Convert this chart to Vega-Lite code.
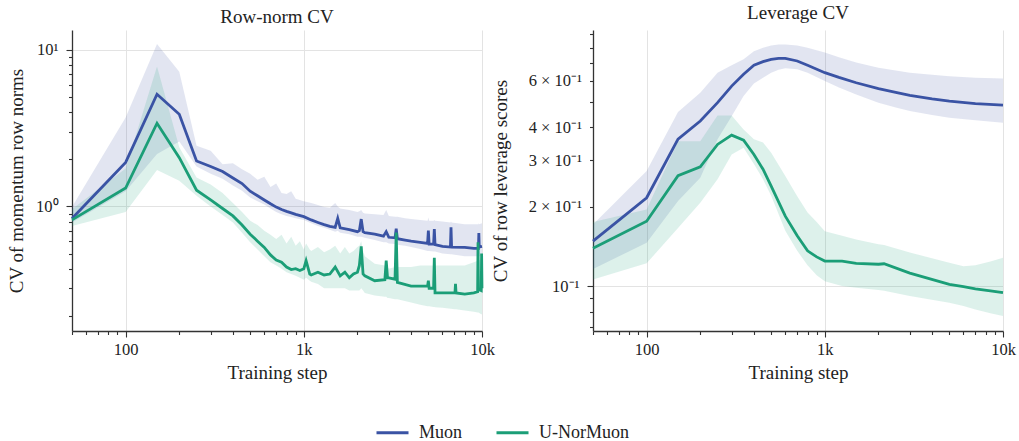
{
  "$schema": "https://vega.github.io/schema/vega-lite/v6.json",
  "background": "white",
  "padding": {"left": 7, "top": 4, "right": 5, "bottom": 5},
  "datasets": {
    "rownorm": [
      {"step": 50, "method": "Muon", "mean": 0.838, "lo": 0.79, "hi": 0.99},
      {"step": 100, "method": "Muon", "mean": 1.91, "lo": 1.25, "hi": 3.7},
      {"step": 150, "method": "Muon", "mean": 5.21, "lo": 2.16, "hi": 10.9},
      {"step": 200, "method": "Muon", "mean": 3.88, "lo": 2.6, "hi": 7.24},
      {"step": 250, "method": "Muon", "mean": 1.95, "lo": 1.8, "hi": 2.44},
      {"step": 300, "method": "Muon", "mean": 1.80, "lo": 1.62, "hi": 2.27},
      {"step": 350, "method": "Muon", "mean": 1.67, "lo": 1.50, "hi": 1.86},
      {"step": 400, "method": "Muon", "mean": 1.52, "lo": 1.36, "hi": 1.89},
      {"step": 450, "method": "Muon", "mean": 1.40, "lo": 1.26, "hi": 1.73},
      {"step": 500, "method": "Muon", "mean": 1.25, "lo": 1.14, "hi": 1.62},
      {"step": 550, "method": "Muon", "mean": 1.17, "lo": 1.08, "hi": 1.48},
      {"step": 600, "method": "Muon", "mean": 1.10, "lo": 1.03, "hi": 1.55},
      {"step": 650, "method": "Muon", "mean": 1.04, "lo": 0.97, "hi": 1.33},
      {"step": 700, "method": "Muon", "mean": 0.99, "lo": 0.92, "hi": 1.40},
      {"step": 750, "method": "Muon", "mean": 0.955, "lo": 0.89, "hi": 1.22},
      {"step": 800, "method": "Muon", "mean": 0.93, "lo": 0.87, "hi": 1.20},
      {"step": 850, "method": "Muon", "mean": 0.91, "lo": 0.855, "hi": 1.25},
      {"step": 900, "method": "Muon", "mean": 0.89, "lo": 0.84, "hi": 1.12},
      {"step": 1000, "method": "Muon", "mean": 0.86, "lo": 0.82, "hi": 1.08},
      {"step": 1100, "method": "Muon", "mean": 0.82, "lo": 0.78, "hi": 1.05},
      {"step": 1200, "method": "Muon", "mean": 0.79, "lo": 0.75, "hi": 1.02},
      {"step": 1300, "method": "Muon", "mean": 0.765, "lo": 0.73, "hi": 0.99},
      {"step": 1400, "method": "Muon", "mean": 0.745, "lo": 0.71, "hi": 0.98},
      {"step": 1500, "method": "Muon", "mean": 0.735, "lo": 0.69, "hi": 1.05},
      {"step": 1550, "method": "Muon", "mean": 0.84, "lo": 0.70, "hi": 1.0},
      {"step": 1600, "method": "Muon", "mean": 0.73, "lo": 0.68, "hi": 0.97},
      {"step": 1800, "method": "Muon", "mean": 0.71, "lo": 0.665, "hi": 0.95},
      {"step": 2000, "method": "Muon", "mean": 0.69, "lo": 0.64, "hi": 0.92},
      {"step": 2050, "method": "Muon", "mean": 0.70, "lo": 0.64, "hi": 0.93},
      {"step": 2100, "method": "Muon", "mean": 0.83, "lo": 0.64, "hi": 0.95},
      {"step": 2150, "method": "Muon", "mean": 0.69, "lo": 0.635, "hi": 0.91},
      {"step": 2200, "method": "Muon", "mean": 0.68, "lo": 0.63, "hi": 0.90},
      {"step": 2500, "method": "Muon", "mean": 0.665, "lo": 0.61, "hi": 0.89},
      {"step": 2800, "method": "Muon", "mean": 0.645, "lo": 0.59, "hi": 0.88},
      {"step": 2900, "method": "Muon", "mean": 0.69, "lo": 0.59, "hi": 0.95},
      {"step": 3000, "method": "Muon", "mean": 0.635, "lo": 0.58, "hi": 0.87},
      {"step": 3250, "method": "Muon", "mean": 0.63, "lo": 0.575, "hi": 0.86},
      {"step": 3300, "method": "Muon", "mean": 0.72, "lo": 0.575, "hi": 0.86},
      {"step": 3350, "method": "Muon", "mean": 0.622, "lo": 0.57, "hi": 0.86},
      {"step": 3700, "method": "Muon", "mean": 0.61, "lo": 0.56, "hi": 0.84},
      {"step": 4000, "method": "Muon", "mean": 0.60, "lo": 0.55, "hi": 0.83},
      {"step": 4500, "method": "Muon", "mean": 0.59, "lo": 0.535, "hi": 0.82},
      {"step": 4950, "method": "Muon", "mean": 0.58, "lo": 0.52, "hi": 0.81},
      {"step": 5000, "method": "Muon", "mean": 0.70, "lo": 0.52, "hi": 0.85},
      {"step": 5050, "method": "Muon", "mean": 0.575, "lo": 0.52, "hi": 0.81},
      {"step": 5350, "method": "Muon", "mean": 0.575, "lo": 0.515, "hi": 0.81},
      {"step": 5400, "method": "Muon", "mean": 0.716, "lo": 0.515, "hi": 0.82},
      {"step": 5450, "method": "Muon", "mean": 0.57, "lo": 0.515, "hi": 0.81},
      {"step": 6000, "method": "Muon", "mean": 0.555, "lo": 0.50, "hi": 0.80},
      {"step": 6650, "method": "Muon", "mean": 0.55, "lo": 0.495, "hi": 0.79},
      {"step": 6700, "method": "Muon", "mean": 0.735, "lo": 0.495, "hi": 0.80},
      {"step": 6750, "method": "Muon", "mean": 0.55, "lo": 0.495, "hi": 0.79},
      {"step": 8000, "method": "Muon", "mean": 0.547, "lo": 0.48, "hi": 0.77},
      {"step": 9000, "method": "Muon", "mean": 0.54, "lo": 0.48, "hi": 0.77},
      {"step": 9550, "method": "Muon", "mean": 0.54, "lo": 0.48, "hi": 0.77},
      {"step": 9600, "method": "Muon", "mean": 0.675, "lo": 0.48, "hi": 0.78},
      {"step": 9650, "method": "Muon", "mean": 0.55, "lo": 0.48, "hi": 0.77},
      {"step": 10000, "method": "Muon", "mean": 0.555, "lo": 0.48, "hi": 0.78},
      {"step": 50, "method": "U-NorMuon", "mean": 0.82, "lo": 0.75, "hi": 0.96},
      {"step": 100, "method": "U-NorMuon", "mean": 1.31, "lo": 0.92, "hi": 1.75},
      {"step": 150, "method": "U-NorMuon", "mean": 3.40, "lo": 1.71, "hi": 7.83},
      {"step": 200, "method": "U-NorMuon", "mean": 2.05, "lo": 1.46, "hi": 2.39},
      {"step": 250, "method": "U-NorMuon", "mean": 1.27, "lo": 1.17, "hi": 1.53},
      {"step": 300, "method": "U-NorMuon", "mean": 1.10, "lo": 1.00, "hi": 1.38},
      {"step": 350, "method": "U-NorMuon", "mean": 0.97, "lo": 0.88, "hi": 1.22},
      {"step": 400, "method": "U-NorMuon", "mean": 0.87, "lo": 0.79, "hi": 1.05},
      {"step": 450, "method": "U-NorMuon", "mean": 0.76, "lo": 0.68, "hi": 0.92},
      {"step": 500, "method": "U-NorMuon", "mean": 0.665, "lo": 0.59, "hi": 0.81},
      {"step": 550, "method": "U-NorMuon", "mean": 0.60, "lo": 0.53, "hi": 0.76},
      {"step": 600, "method": "U-NorMuon", "mean": 0.547, "lo": 0.48, "hi": 0.70},
      {"step": 650, "method": "U-NorMuon", "mean": 0.49, "lo": 0.44, "hi": 0.66},
      {"step": 700, "method": "U-NorMuon", "mean": 0.455, "lo": 0.42, "hi": 0.62},
      {"step": 750, "method": "U-NorMuon", "mean": 0.44, "lo": 0.40, "hi": 0.66},
      {"step": 800, "method": "U-NorMuon", "mean": 0.41, "lo": 0.38, "hi": 0.58},
      {"step": 850, "method": "U-NorMuon", "mean": 0.395, "lo": 0.37, "hi": 0.64},
      {"step": 900, "method": "U-NorMuon", "mean": 0.40, "lo": 0.36, "hi": 0.56},
      {"step": 950, "method": "U-NorMuon", "mean": 0.39, "lo": 0.35, "hi": 0.60},
      {"step": 1000, "method": "U-NorMuon", "mean": 0.40, "lo": 0.34, "hi": 0.53},
      {"step": 1030, "method": "U-NorMuon", "mean": 0.45, "lo": 0.35, "hi": 0.58},
      {"step": 1080, "method": "U-NorMuon", "mean": 0.37, "lo": 0.335, "hi": 0.53},
      {"step": 1100, "method": "U-NorMuon", "mean": 0.365, "lo": 0.33, "hi": 0.52},
      {"step": 1200, "method": "U-NorMuon", "mean": 0.38, "lo": 0.32, "hi": 0.55},
      {"step": 1300, "method": "U-NorMuon", "mean": 0.365, "lo": 0.30, "hi": 0.51},
      {"step": 1400, "method": "U-NorMuon", "mean": 0.37, "lo": 0.30, "hi": 0.53},
      {"step": 1500, "method": "U-NorMuon", "mean": 0.41, "lo": 0.30, "hi": 0.56},
      {"step": 1600, "method": "U-NorMuon", "mean": 0.36, "lo": 0.30, "hi": 0.50},
      {"step": 1700, "method": "U-NorMuon", "mean": 0.38, "lo": 0.30, "hi": 0.55},
      {"step": 1800, "method": "U-NorMuon", "mean": 0.35, "lo": 0.29, "hi": 0.50},
      {"step": 1900, "method": "U-NorMuon", "mean": 0.37, "lo": 0.29, "hi": 0.52},
      {"step": 2000, "method": "U-NorMuon", "mean": 0.38, "lo": 0.29, "hi": 0.55},
      {"step": 2050, "method": "U-NorMuon", "mean": 0.42, "lo": 0.29, "hi": 0.56},
      {"step": 2100, "method": "U-NorMuon", "mean": 0.555, "lo": 0.30, "hi": 0.60},
      {"step": 2150, "method": "U-NorMuon", "mean": 0.37, "lo": 0.29, "hi": 0.52},
      {"step": 2200, "method": "U-NorMuon", "mean": 0.36, "lo": 0.28, "hi": 0.48},
      {"step": 2500, "method": "U-NorMuon", "mean": 0.335, "lo": 0.27, "hi": 0.43},
      {"step": 2850, "method": "U-NorMuon", "mean": 0.34, "lo": 0.265, "hi": 0.42},
      {"step": 2900, "method": "U-NorMuon", "mean": 0.45, "lo": 0.265, "hi": 0.44},
      {"step": 2950, "method": "U-NorMuon", "mean": 0.35, "lo": 0.26, "hi": 0.41},
      {"step": 3000, "method": "U-NorMuon", "mean": 0.35, "lo": 0.26, "hi": 0.40},
      {"step": 3250, "method": "U-NorMuon", "mean": 0.343, "lo": 0.255, "hi": 0.41},
      {"step": 3300, "method": "U-NorMuon", "mean": 0.68, "lo": 0.255, "hi": 0.42},
      {"step": 3350, "method": "U-NorMuon", "mean": 0.327, "lo": 0.255, "hi": 0.41},
      {"step": 4000, "method": "U-NorMuon", "mean": 0.31, "lo": 0.243, "hi": 0.41},
      {"step": 4500, "method": "U-NorMuon", "mean": 0.31, "lo": 0.235, "hi": 0.42},
      {"step": 4950, "method": "U-NorMuon", "mean": 0.31, "lo": 0.23, "hi": 0.42},
      {"step": 5000, "method": "U-NorMuon", "mean": 0.335, "lo": 0.23, "hi": 0.42},
      {"step": 5050, "method": "U-NorMuon", "mean": 0.30, "lo": 0.23, "hi": 0.42},
      {"step": 5350, "method": "U-NorMuon", "mean": 0.30, "lo": 0.228, "hi": 0.42},
      {"step": 5400, "method": "U-NorMuon", "mean": 0.47, "lo": 0.228, "hi": 0.42},
      {"step": 5450, "method": "U-NorMuon", "mean": 0.28, "lo": 0.227, "hi": 0.42},
      {"step": 6000, "method": "U-NorMuon", "mean": 0.28, "lo": 0.225, "hi": 0.42},
      {"step": 7050, "method": "U-NorMuon", "mean": 0.28, "lo": 0.22, "hi": 0.42},
      {"step": 7100, "method": "U-NorMuon", "mean": 0.32, "lo": 0.22, "hi": 0.42},
      {"step": 7150, "method": "U-NorMuon", "mean": 0.28, "lo": 0.22, "hi": 0.42},
      {"step": 8000, "method": "U-NorMuon", "mean": 0.275, "lo": 0.216, "hi": 0.42},
      {"step": 9000, "method": "U-NorMuon", "mean": 0.28, "lo": 0.212, "hi": 0.44},
      {"step": 9450, "method": "U-NorMuon", "mean": 0.285, "lo": 0.21, "hi": 0.45},
      {"step": 9500, "method": "U-NorMuon", "mean": 0.59, "lo": 0.21, "hi": 0.45},
      {"step": 9550, "method": "U-NorMuon", "mean": 0.295, "lo": 0.21, "hi": 0.45},
      {"step": 9900, "method": "U-NorMuon", "mean": 0.29, "lo": 0.205, "hi": 0.46},
      {"step": 9950, "method": "U-NorMuon", "mean": 0.50, "lo": 0.205, "hi": 0.46},
      {"step": 10000, "method": "U-NorMuon", "mean": 0.30, "lo": 0.205, "hi": 0.46}
    ],
    "leverage": [
      {"step": 50, "method": "Muon", "mean": 0.148, "lo": 0.116, "hi": 0.171},
      {"step": 100, "method": "Muon", "mean": 0.216, "lo": 0.146, "hi": 0.273},
      {"step": 150, "method": "Muon", "mean": 0.36, "lo": 0.21, "hi": 0.456},
      {"step": 200, "method": "Muon", "mean": 0.422, "lo": 0.257, "hi": 0.54},
      {"step": 250, "method": "Muon", "mean": 0.495, "lo": 0.36, "hi": 0.643},
      {"step": 300, "method": "Muon", "mean": 0.572, "lo": 0.44, "hi": 0.686},
      {"step": 350, "method": "Muon", "mean": 0.634, "lo": 0.525, "hi": 0.723},
      {"step": 400, "method": "Muon", "mean": 0.686, "lo": 0.585, "hi": 0.775},
      {"step": 450, "method": "Muon", "mean": 0.708, "lo": 0.615, "hi": 0.80},
      {"step": 500, "method": "Muon", "mean": 0.722, "lo": 0.643, "hi": 0.815},
      {"step": 550, "method": "Muon", "mean": 0.728, "lo": 0.66, "hi": 0.822},
      {"step": 600, "method": "Muon", "mean": 0.728, "lo": 0.668, "hi": 0.823},
      {"step": 700, "method": "Muon", "mean": 0.712, "lo": 0.662, "hi": 0.815},
      {"step": 800, "method": "Muon", "mean": 0.686, "lo": 0.643, "hi": 0.80},
      {"step": 1000, "method": "Muon", "mean": 0.643, "lo": 0.598, "hi": 0.767},
      {"step": 1200, "method": "Muon", "mean": 0.617, "lo": 0.565, "hi": 0.735},
      {"step": 1500, "method": "Muon", "mean": 0.589, "lo": 0.532, "hi": 0.702},
      {"step": 2000, "method": "Muon", "mean": 0.56, "lo": 0.495, "hi": 0.672},
      {"step": 2500, "method": "Muon", "mean": 0.542, "lo": 0.475, "hi": 0.655},
      {"step": 3000, "method": "Muon", "mean": 0.528, "lo": 0.46, "hi": 0.643},
      {"step": 4000, "method": "Muon", "mean": 0.512, "lo": 0.445, "hi": 0.632},
      {"step": 5000, "method": "Muon", "mean": 0.502, "lo": 0.434, "hi": 0.624},
      {"step": 7000, "method": "Muon", "mean": 0.491, "lo": 0.425, "hi": 0.615},
      {"step": 10000, "method": "Muon", "mean": 0.485, "lo": 0.416, "hi": 0.611},
      {"step": 50, "method": "U-NorMuon", "mean": 0.139, "lo": 0.106, "hi": 0.175},
      {"step": 100, "method": "U-NorMuon", "mean": 0.176, "lo": 0.122, "hi": 0.195},
      {"step": 150, "method": "U-NorMuon", "mean": 0.262, "lo": 0.166, "hi": 0.354},
      {"step": 200, "method": "U-NorMuon", "mean": 0.283, "lo": 0.207, "hi": 0.354},
      {"step": 250, "method": "U-NorMuon", "mean": 0.344, "lo": 0.254, "hi": 0.443},
      {"step": 300, "method": "U-NorMuon", "mean": 0.373, "lo": 0.315, "hi": 0.443},
      {"step": 350, "method": "U-NorMuon", "mean": 0.357, "lo": 0.334, "hi": 0.392},
      {"step": 400, "method": "U-NorMuon", "mean": 0.315, "lo": 0.29, "hi": 0.36},
      {"step": 450, "method": "U-NorMuon", "mean": 0.277, "lo": 0.254, "hi": 0.35},
      {"step": 500, "method": "U-NorMuon", "mean": 0.239, "lo": 0.22, "hi": 0.32},
      {"step": 600, "method": "U-NorMuon", "mean": 0.184, "lo": 0.162, "hi": 0.261},
      {"step": 700, "method": "U-NorMuon", "mean": 0.155, "lo": 0.136, "hi": 0.219},
      {"step": 800, "method": "U-NorMuon", "mean": 0.136, "lo": 0.12, "hi": 0.19},
      {"step": 900, "method": "U-NorMuon", "mean": 0.129, "lo": 0.11, "hi": 0.175},
      {"step": 1000, "method": "U-NorMuon", "mean": 0.1244, "lo": 0.1044, "hi": 0.1615},
      {"step": 1250, "method": "U-NorMuon", "mean": 0.1244, "lo": 0.10, "hi": 0.155},
      {"step": 1500, "method": "U-NorMuon", "mean": 0.122, "lo": 0.0986, "hi": 0.150},
      {"step": 2000, "method": "U-NorMuon", "mean": 0.121, "lo": 0.0966, "hi": 0.144},
      {"step": 2150, "method": "U-NorMuon", "mean": 0.1215, "lo": 0.096, "hi": 0.143},
      {"step": 3000, "method": "U-NorMuon", "mean": 0.112, "lo": 0.0917, "hi": 0.134},
      {"step": 5000, "method": "U-NorMuon", "mean": 0.1015, "lo": 0.0865, "hi": 0.1226},
      {"step": 6000, "method": "U-NorMuon", "mean": 0.0995, "lo": 0.084, "hi": 0.119},
      {"step": 7000, "method": "U-NorMuon", "mean": 0.0977, "lo": 0.0816, "hi": 0.12},
      {"step": 8500, "method": "U-NorMuon", "mean": 0.096, "lo": 0.079, "hi": 0.124},
      {"step": 10000, "method": "U-NorMuon", "mean": 0.0944, "lo": 0.077, "hi": 0.128}
    ]
  },
  "config": {
    "font": "Liberation Serif",
    "view": {"stroke": null},
    "axis": {
      "labelFont": "Liberation Serif",
      "labelFontSize": 16.5,
      "labelColor": "#222222",
      "titleFont": "Liberation Serif",
      "titleFontSize": 19,
      "titleFontWeight": "normal",
      "titleColor": "#222222",
      "domainColor": "#333333",
      "domainWidth": 1.3,
      "tickColor": "#333333",
      "tickWidth": 1.1,
      "gridColor": "#e3e3e3",
      "gridWidth": 1,
      "labelOverlap": false,
      "labelBound": false,
      "labelFlush": false,
      "labelPadding": 4,
      "titlePadding": 10
    },
    "legend": {
      "orient": "none", "legendX": 303, "legendY": 385, "direction": "horizontal",
      "labelFont": "Liberation Serif", "labelFontSize": 18, "labelColor": "#222222",
      "symbolType": "stroke", "symbolStrokeWidth": 3, "symbolSize": 1024, "labelOffset": 9,
      "columnPadding": 27, "padding": 0
    },
    "title": {"font": "Liberation Serif", "fontSize": 19, "fontWeight": "normal", "color": "#222222", "baseline": "alphabetic", "offset": 3}
  },
  "spacing": 111,
  "bounds": "flush",
  "hconcat": [
    {
      "width": 410,
      "height": 301,
      "title": "Row-norm CV",
      "data": {"name": "rownorm"},
      "encoding": {
        "x": {
          "field": "step", "type": "quantitative",
          "scale": {"type": "log", "domain": [50, 10000], "nice": false},
          "axis": {
            "title": "Training step",
            "titlePadding": 6,
            "values": [50, 60, 70, 80, 90, 100, 200, 300, 400, 500, 600, 700, 800, 900, 1000, 2000, 3000, 4000, 5000, 6000, 7000, 8000, 9000, 10000],
            "labelExpr": "datum.value == 100 ? '100' : datum.value == 1000 ? '1k' : datum.value == 10000 ? '10k' : ''",
            "tickSize": {"condition": {"test": "datum.value == 100 || datum.value == 1000 || datum.value == 10000", "value": 6}, "value": 3.5},
            "gridOpacity": {"condition": {"test": "datum.value == 100 || datum.value == 1000 || datum.value == 10000", "value": 1}, "value": 0}
          }
        }
      },
      "layer": [
        {
          "mark": {"type": "area", "opacity": 0.15},
          "encoding": {
            "y": {
              "field": "lo", "type": "quantitative",
              "scale": {"type": "log", "domain": [0.16, 13.4], "nice": false},
              "axis": {
                "title": "CV of momentum row norms",
                "labelPadding": 8,
                "titlePadding": 9,
                "values": [0.2, 0.3, 0.4, 0.5, 0.6, 0.7, 0.8, 0.9, 1, 2, 3, 4, 5, 6, 7, 8, 9, 10],
                "labelExpr": "datum.value == 10 ? '10¹' : datum.value == 1 ? '10⁰' : ''",
                "tickSize": {"condition": {"test": "datum.value == 1 || datum.value == 10", "value": 6}, "value": 3.5},
                "gridOpacity": {"condition": {"test": "datum.value == 1 || datum.value == 10", "value": 1}, "value": 0}
              }
            },
            "y2": {"field": "hi"},
            "detail": {"field": "method", "type": "nominal"},
            "fill": {"condition": {"test": "datum.method == 'Muon'", "value": "#3a53a4"}, "value": "#1b9e77"}
          }
        },
        {
          "mark": {"type": "line", "strokeWidth": 2.8},
          "encoding": {
            "y": {"field": "mean", "type": "quantitative"},
            "color": {
              "field": "method", "type": "nominal",
              "scale": {"domain": ["Muon", "U-NorMuon"], "range": ["#3a53a4", "#1b9e77"]},
              "legend": {"title": null}
            }
          }
        }
      ]
    },
    {
      "width": 410,
      "height": 301,
      "title": "Leverage CV",
      "data": {"name": "leverage"},
      "encoding": {
        "x": {
          "field": "step", "type": "quantitative",
          "scale": {"type": "log", "domain": [50, 10000], "nice": false},
          "axis": {
            "title": "Training step",
            "titlePadding": 6,
            "values": [50, 60, 70, 80, 90, 100, 200, 300, 400, 500, 600, 700, 800, 900, 1000, 2000, 3000, 4000, 5000, 6000, 7000, 8000, 9000, 10000],
            "labelExpr": "datum.value == 100 ? '100' : datum.value == 1000 ? '1k' : datum.value == 10000 ? '10k' : ''",
            "tickSize": {"condition": {"test": "datum.value == 100 || datum.value == 1000 || datum.value == 10000", "value": 6}, "value": 3.5},
            "gridOpacity": {"condition": {"test": "datum.value == 100 || datum.value == 1000 || datum.value == 10000", "value": 1}, "value": 0}
          }
        }
      },
      "layer": [
        {
          "mark": {"type": "area", "opacity": 0.15},
          "encoding": {
            "y": {
              "field": "lo", "type": "quantitative",
              "scale": {"type": "log", "domain": [0.0676, 0.933], "nice": false},
              "axis": {
                "title": "CV of row leverage scores",
                "labelPadding": 8,
                "titlePadding": 18,
                "values": [0.07, 0.08, 0.09, 0.1, 0.2, 0.3, 0.4, 0.5, 0.6, 0.7, 0.8, 0.9],
                "labelExpr": "datum.value == 0.1 ? '10⁻¹' : datum.value == 0.2 ? '2 × 10⁻¹' : datum.value == 0.3 ? '3 × 10⁻¹' : datum.value == 0.4 ? '4 × 10⁻¹' : datum.value == 0.6 ? '6 × 10⁻¹' : ''",
                "tickSize": {"condition": {"test": "datum.value == 0.1", "value": 6}, "value": 3.5},
                "gridOpacity": {"condition": {"test": "datum.value == 0.1", "value": 1}, "value": 0}
              }
            },
            "y2": {"field": "hi"},
            "detail": {"field": "method", "type": "nominal"},
            "fill": {"condition": {"test": "datum.method == 'Muon'", "value": "#3a53a4"}, "value": "#1b9e77"}
          }
        },
        {
          "mark": {"type": "line", "strokeWidth": 2.8},
          "encoding": {
            "y": {"field": "mean", "type": "quantitative"},
            "color": {
              "field": "method", "type": "nominal",
              "scale": {"domain": ["Muon", "U-NorMuon"], "range": ["#3a53a4", "#1b9e77"]},
              "legend": {"title": null}
            }
          }
        }
      ]
    }
  ]
}
